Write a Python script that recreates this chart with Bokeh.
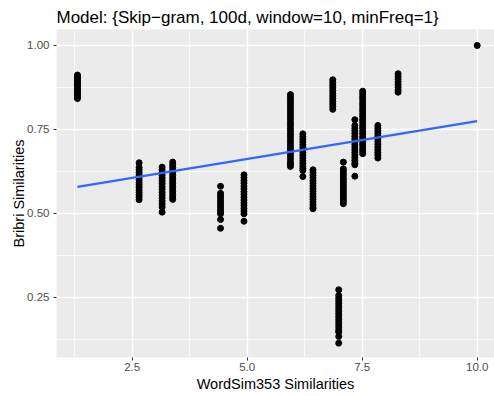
from bokeh.plotting import figure
from bokeh.models import Range1d, FixedTicker, NumeralTickFormatter, ColumnDataSource
from bokeh.embed import file_html
from bokeh.resources import INLINE

# --- data ---
cluster_x = [1.31, 2.65, 3.15, 3.38, 4.42, 4.93, 5.94, 6.21, 6.43, 6.86,
             6.99, 7.09, 7.34, 7.51, 7.84, 8.28, 10.0]
cluster_y = [
    [0.842, 0.847, 0.853, 0.858, 0.864, 0.869, 0.875, 0.881, 0.886, 0.892, 0.897, 0.903, 0.908, 0.912],
    [0.651, 0.637, 0.630, 0.622, 0.615, 0.607, 0.600, 0.592, 0.585, 0.578, 0.570, 0.563, 0.556, 0.549, 0.541],
    [0.638, 0.630, 0.622, 0.613, 0.605, 0.597, 0.589, 0.580, 0.572, 0.563, 0.555, 0.546, 0.537, 0.528, 0.519, 0.504],
    [0.653, 0.645, 0.637, 0.629, 0.621, 0.613, 0.605, 0.597, 0.589, 0.581, 0.573, 0.565, 0.557, 0.549, 0.542],
    [0.581, 0.560, 0.552, 0.544, 0.536, 0.528, 0.520, 0.512, 0.505, 0.499, 0.482, 0.456],
    [0.615, 0.607, 0.598, 0.590, 0.581, 0.573, 0.565, 0.557, 0.548, 0.540, 0.532, 0.524, 0.515, 0.507, 0.499, 0.477],
    [0.854, 0.846, 0.838, 0.830, 0.822, 0.813, 0.805, 0.796, 0.788, 0.780, 0.771, 0.763, 0.754, 0.746,
     0.737, 0.729, 0.720, 0.712, 0.703, 0.695, 0.687, 0.678, 0.670, 0.661, 0.652, 0.646, 0.640],
    [0.737, 0.729, 0.721, 0.713, 0.705, 0.697, 0.689, 0.681, 0.673, 0.665, 0.657, 0.649, 0.641, 0.634, 0.628, 0.610],
    [0.630, 0.622, 0.614, 0.606, 0.598, 0.590, 0.582, 0.574, 0.566, 0.558, 0.550, 0.542, 0.534, 0.526, 0.518, 0.514],
    [0.898, 0.890, 0.882, 0.874, 0.866, 0.858, 0.850, 0.842, 0.834, 0.826, 0.818, 0.810],
    [0.273, 0.256, 0.248, 0.240, 0.232, 0.224, 0.216, 0.208, 0.200, 0.192, 0.184, 0.176, 0.168, 0.160,
     0.152, 0.147, 0.134, 0.114],
    [0.653, 0.633, 0.625, 0.617, 0.609, 0.601, 0.593, 0.585, 0.577, 0.569, 0.561, 0.553, 0.545, 0.537, 0.529],
    [0.779, 0.762, 0.754, 0.746, 0.738, 0.730, 0.722, 0.714, 0.706, 0.698, 0.690, 0.682, 0.674, 0.666,
     0.658, 0.650, 0.645, 0.611],
    [0.864, 0.856, 0.847, 0.839, 0.830, 0.822, 0.813, 0.805, 0.796, 0.788, 0.779, 0.771, 0.762, 0.754,
     0.745, 0.737, 0.728, 0.720, 0.711, 0.703, 0.694, 0.686, 0.678],
    [0.762, 0.754, 0.746, 0.738, 0.730, 0.722, 0.714, 0.706, 0.698, 0.690, 0.682, 0.674, 0.665],
    [0.916, 0.908, 0.900, 0.892, 0.884, 0.876, 0.868, 0.861],
    [1.0],
]
fit_x = [1.31, 10.0]
fit_y = [0.579, 0.775]

x_ticks = [2.5, 5.0, 7.5, 10.0]
x_minor = [1.25, 3.75, 6.25, 8.75]
y_ticks = [0.25, 0.50, 0.75, 1.00]
y_minor = [0.125, 0.375, 0.625, 0.875]

title_text = "Model: {Skip\u2212gram, 100d, window=10, minFreq=1}"
x_label = "WordSim353 Similarities"
y_label = "Bribri Similarities"

xs, ys = [], []
for cx, cy in zip(cluster_x, cluster_y):
    for v in cy:
        xs.append(cx)
        ys.append(v)
src = ColumnDataSource(dict(x=xs, y=ys))

FONT = "Liberation Sans"

p = figure(width=494, height=396, output_backend="svg", toolbar_location=None,
           x_range=Range1d(0.854, 10.376), y_range=Range1d(0.0714, 1.0476),
           min_border_left=56, min_border_right=0, min_border_top=29, min_border_bottom=39)

p.background_fill_color = "#EBEBEB"
p.border_fill_color = "white"
p.outline_line_color = None

p.title.text = title_text
p.title.text_font = FONT
p.title.text_font_size = "17px"
p.title.text_font_style = "normal"
p.title.text_color = "black"
p.title.align = "left"
p.title.offset = 0
p.title.standoff = 6

for ax, ticks in ((p.xaxis[0], x_ticks), (p.yaxis[0], y_ticks)):
    ax.ticker = FixedTicker(ticks=ticks, minor_ticks=[])
    ax.axis_line_color = None
    ax.major_tick_line_color = "#333333"
    ax.major_tick_line_width = 1
    ax.major_tick_in = 0
    ax.major_tick_out = 3
    ax.minor_tick_line_color = None
    ax.major_label_text_font = FONT
    ax.major_label_text_font_size = "11.5px"
    ax.major_label_text_color = "#4D4D4D"
    ax.axis_label_text_font = FONT
    ax.axis_label_text_font_size = "14.5px"
    ax.axis_label_text_font_style = "normal"
    ax.axis_label_text_color = "black"

p.xaxis[0].formatter = NumeralTickFormatter(format="0.0")
p.yaxis[0].formatter = NumeralTickFormatter(format="0.00")
p.xaxis[0].axis_label = x_label
p.yaxis[0].axis_label = y_label
p.xaxis[0].major_label_standoff = 2
p.xaxis[0].axis_label_standoff = 2
p.yaxis[0].major_label_standoff = 4
p.yaxis[0].axis_label_standoff = -3

p.xgrid[0].ticker = FixedTicker(ticks=x_ticks, minor_ticks=x_minor)
p.ygrid[0].ticker = FixedTicker(ticks=y_ticks, minor_ticks=y_minor)
for g in (p.xgrid[0], p.ygrid[0]):
    g.grid_line_color = "white"
    g.grid_line_width = 1.4
    g.minor_grid_line_color = "white"
    g.minor_grid_line_width = 0.7

p.scatter("x", "y", source=src, size=6, color="black", line_color="black")
p.line(fit_x, fit_y, line_color="#3366FF", line_width=2.2)

open("out.html", "w").write(file_html(p, INLINE))
